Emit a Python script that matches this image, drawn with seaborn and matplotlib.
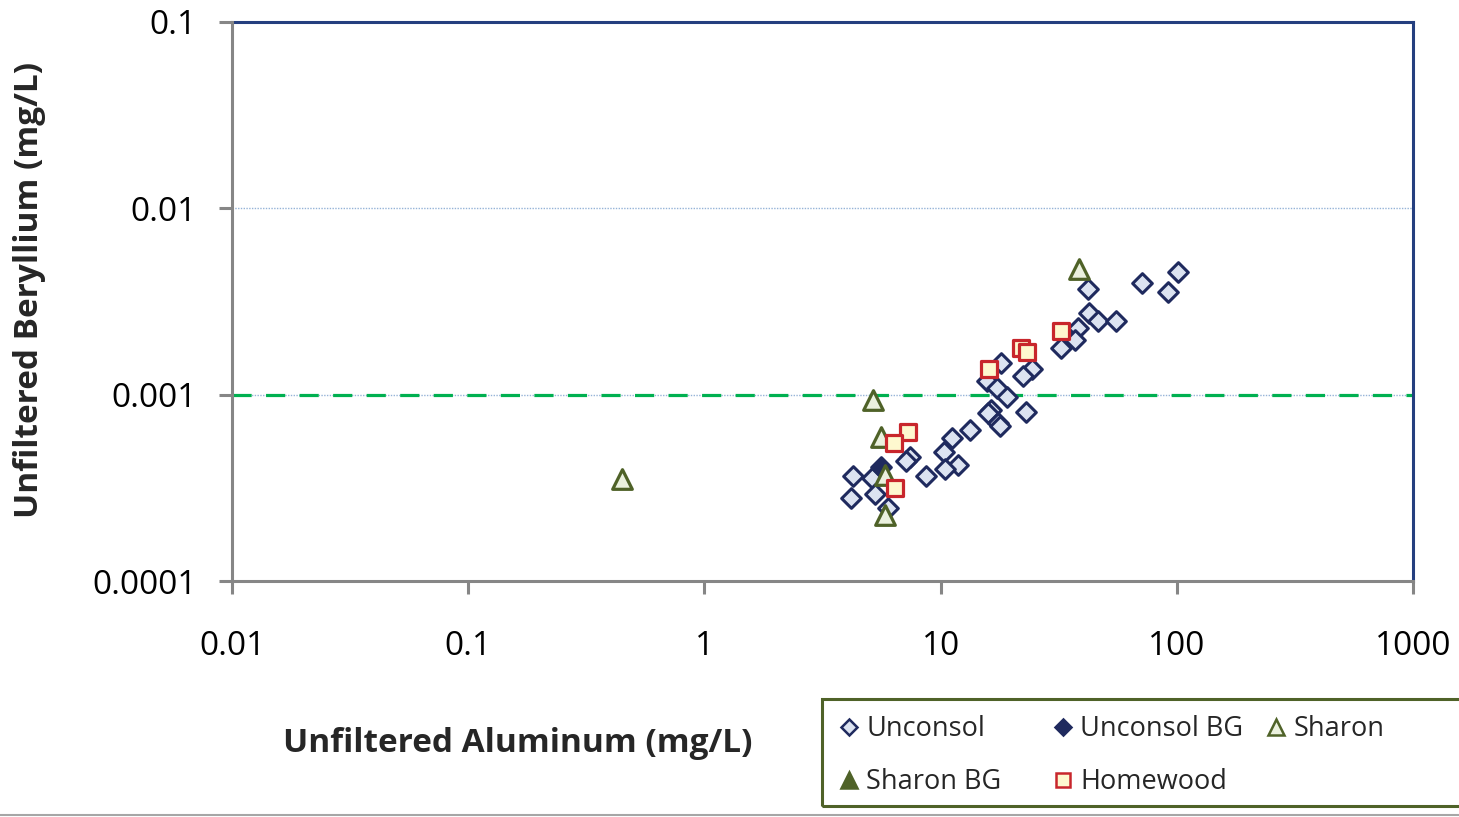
import matplotlib
matplotlib.use("Agg")
import matplotlib.pyplot as plt
import seaborn as sns
from matplotlib.lines import Line2D
from matplotlib.patches import Rectangle
from matplotlib.ticker import FixedLocator, FixedFormatter, NullLocator

# Unfiltered aluminum (mg/L) vs unfiltered beryllium (mg/L) by unit
al_unconsol = [100.9, 71.0, 91.5, 42.0, 42.6, 46.2, 55.3, 38.3, 37.1, 32.2,
               18.1, 24.4, 22.4, 15.7, 17.4, 19.05, 23.1, 16.4, 15.9, 17.55,
               17.85, 13.3, 11.2, 10.3, 7.42, 7.14, 11.9, 10.4, 8.65, 4.27,
               5.11, 5.28, 4.16, 5.97]
be_unconsol = [0.00457, 0.00399, 0.00357, 0.00367, 0.00273, 0.00248, 0.00248,
               0.00229, 0.00196, 0.00177, 0.00148, 0.00138, 0.00126, 0.00119,
               0.00109, 0.000974, 0.000809, 0.000827, 0.000795, 0.000707,
               0.000678, 0.000646, 0.000583, 0.000494, 0.000464, 0.000442,
               0.000419, 0.000397, 0.000366, 0.000366, 0.000355, 0.000293,
               0.000278, 0.000248]

al_unconsol_bg = [5.60]
be_unconsol_bg = [0.000410]

al_sharon = [38.7, 5.19, 5.60, 5.82, 5.82, 0.448]
be_sharon = [0.00471, 0.000935, 0.000594, 0.000370, 0.000226, 0.000352]

al_sharon_bg = []
be_sharon_bg = []

al_homewood = [32.2, 21.9, 23.3, 16.0, 7.30, 6.35, 6.41]
be_homewood = [0.00219, 0.00179, 0.00169, 0.00138, 0.000632, 0.000552, 0.000317]

screening_level = 0.001

x_ticks = [0.01, 0.1, 1, 10, 100, 1000]
x_tick_labels = ["0.01", "0.1", "1", "10", "100", "1000"]
y_ticks = [0.0001, 0.001, 0.01, 0.1]
y_tick_labels = ["0.0001", "0.001", "0.01", "0.1"]

NAVY = "#1f2a5e"
DIAMOND_FACE = "#dce3f1"
OLIVE = "#4f6228"
TRI_FACE = "#ebf1de"
RED = "#c8262c"
SQ_FACE = "#fef8cf"
GRAY = "#868686"

sns.set_theme(style="white")
plt.rcParams["font.family"] = ["Open Sans", "DejaVu Sans"]

W, H = 1459, 817
fig = plt.figure(figsize=(W / 100, H / 100), dpi=100)
ax = fig.add_axes([232 / W, 1 - 581 / H, (1413 - 232) / W, (581 - 22) / H])

ax.set_xscale("log")
ax.set_yscale("log")
ax.set_xlim(0.01, 1000)
ax.set_ylim(0.0001, 0.1)

# horizontal gridlines and the screening level
for yv in [0.001, 0.01]:
    ax.axhline(yv, color="#95b3d7", lw=1.0, ls=(0, (1, 1)), zorder=1)
ax.axhline(screening_level, color="#00b050", lw=2.3, ls=(0, (6, 4.5)), zorder=2)

sns.scatterplot(x=al_unconsol, y=be_unconsol, marker="D", s=100,
                color=DIAMOND_FACE, edgecolor=NAVY, linewidth=2.2, ax=ax, zorder=3)
sns.scatterplot(x=al_unconsol_bg, y=be_unconsol_bg, marker="D", s=100,
                color=NAVY, edgecolor=NAVY, linewidth=2.2, ax=ax, zorder=4)
sns.scatterplot(x=al_sharon, y=be_sharon, marker="^", s=200,
                color=TRI_FACE, edgecolor=OLIVE, linewidth=2.3, ax=ax, zorder=5)
if al_sharon_bg:
    sns.scatterplot(x=al_sharon_bg, y=be_sharon_bg, marker="^", s=200,
                    color=OLIVE, edgecolor=OLIVE, linewidth=2.3, ax=ax, zorder=5)
sns.scatterplot(x=al_homewood, y=be_homewood, marker="s", s=135,
                color=SQ_FACE, edgecolor=RED, linewidth=2.3, ax=ax, zorder=6)

ax.xaxis.set_major_locator(FixedLocator(x_ticks))
ax.xaxis.set_major_formatter(FixedFormatter(x_tick_labels))
ax.yaxis.set_major_locator(FixedLocator(y_ticks))
ax.yaxis.set_major_formatter(FixedFormatter(y_tick_labels))
ax.xaxis.set_minor_locator(NullLocator())
ax.yaxis.set_minor_locator(NullLocator())
ax.tick_params(axis="both", which="major", direction="out", length=9.5,
               width=2.2, color=GRAY, labelsize=24, labelcolor="black")
ax.tick_params(axis="x", pad=26, bottom=True)
ax.tick_params(axis="y", pad=16, left=True)

for side in ["left", "bottom"]:
    ax.spines[side].set_color(GRAY)
    ax.spines[side].set_linewidth(2.2)
for side in ["top", "right"]:
    ax.spines[side].set_color("#243f7f")
    ax.spines[side].set_linewidth(2.2)
ax.spines["left"].set_zorder(7)
ax.spines["bottom"].set_zorder(7)

fig.text(518 / W, 1 - 743 / H, "Unfiltered Aluminum (mg/L)", ha="center",
         va="center", fontsize=24, fontweight="bold")
fig.text(30 / W, 1 - 290 / H, "Unfiltered Beryllium (mg/L)", ha="center",
         va="center", rotation=90, fontsize=24, fontweight="bold")

# legend frame and entries laid out in fixed-width columns
fig.patches.append(Rectangle((822 / W, 1 - 806 / H), (1480 - 822) / W, 107 / H,
                             transform=fig.transFigure, fill=False,
                             edgecolor=OLIVE, lw=2.2, zorder=10))

def handle(marker, face, edge, ms):
    return Line2D([], [], ls="none", marker=marker, markersize=ms,
                  markerfacecolor=face, markeredgecolor=edge, markeredgewidth=1.8)

columns = [
    ([handle("D", DIAMOND_FACE, NAVY, 8.5), handle("^", OLIVE, OLIVE, 11.5)],
     ["Unconsol", "Sharon BG"], 841),
    ([handle("D", NAVY, NAVY, 8.5), handle("s", SQ_FACE, RED, 10.5)],
     ["Unconsol BG", "Homewood"], 1055),
    ([handle("^", TRI_FACE, OLIVE, 11.5)], ["Sharon"], 1268),
]
for hs, labels, x0 in columns:
    leg = fig.legend(hs, labels, loc="upper left",
                     bbox_to_anchor=(x0 / W, 1 - 715 / H),
                     bbox_transform=fig.transFigure, frameon=False,
                     fontsize=19.5, handlelength=0.6, handletextpad=0.33,
                     labelspacing=0.93, borderpad=0, borderaxespad=0)

fig.lines.append(Line2D([0, 1], [1 - 814.5 / H, 1 - 814.5 / H],
                        transform=fig.transFigure, color="#a6a6a6", lw=1.5))

fig.savefig("out.png", dpi=100)
